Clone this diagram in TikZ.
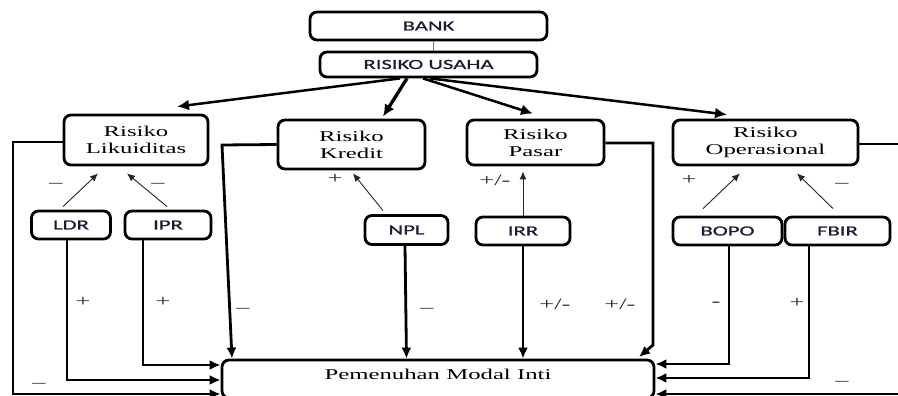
\documentclass[tikz,border=0pt]{standalone}
\usepackage{fontspec}
\usetikzlibrary{arrows.meta}
\newfontfamily\wserif[FakeStretch=1.65]{Liberation Serif}
\newfontfamily\wsans[FakeStretch=1.62, FakeBold=0.8]{Carlito}
\definecolor{txtblue}{HTML}{1A1C38}
\definecolor{lblgray}{HTML}{2A2A2A}
\tikzset{
  box/.style={draw=black, line width=2.8pt, rounded corners=7pt, inner sep=0pt},
  sbox/.style={box, font=\wsans\fontsize{14}{16}\selectfont, text=txtblue},
  rbox/.style={box, font=\wserif\fontsize{15}{17}\selectfont, align=center},
  main/.style={line width=2.8pt, -{Latex[length=11pt,width=10pt]}},
  topa/.style={line width=2.5pt, -{Latex[length=12pt,width=11pt]}},
  thin/.style={line width=0.9pt, draw=black!85, -{Latex[length=8pt,width=7pt]}},
  lbl/.style={font=\wserif\fontsize{16}{16}\selectfont, text=lblgray, inner sep=0pt}
}
\begin{document}
\begin{tikzpicture}[x=1pt,y=-1pt]
\useasboundingbox (0,0) rectangle (898,396);
\fill[white] (0,0) rectangle (898,396);
% boxes
\node[sbox, minimum width=237pt, minimum height=28pt] (bank) at (428.5,26) {BANK};
\node[sbox, minimum width=217pt, minimum height=25pt] (usaha) at (428.5,64.5) {RISIKO USAHA};
\node[rbox, minimum width=144pt, minimum height=50pt] (liku) at (136,140) {Risiko\\Likuiditas};
\node[rbox, minimum width=147pt, minimum height=49pt] (kredit) at (351.5,144.5) {Risiko\\Kredit};
\node[rbox, minimum width=137pt, minimum height=45pt] (pasar) at (535.5,142.5) {Risiko\\Pasar};
\node[rbox, minimum width=185pt, minimum height=45pt] (oper) at (765.5,142.5) {Risiko\\Operasional};
\node[sbox, minimum width=79pt, minimum height=28pt] (ldr) at (71,225) {LDR};
\node[sbox, minimum width=86pt, minimum height=28pt] (ipr) at (168,225) {IPR};
\node[sbox, minimum width=83pt, minimum height=29pt] (npl) at (406.5,230) {NPL};
\node[sbox, minimum width=94pt, minimum height=28pt] (irr) at (523,231) {IRR};
\node[sbox, minimum width=109pt, minimum height=28pt] (bopo) at (727.5,231) {BOPO};
\node[sbox, minimum width=105pt, minimum height=28pt] (fbir) at (837.5,231) {FBIR};
\node[box, font=\wserif\fontsize{15}{17}\selectfont, minimum width=432pt,
      inner ysep=5pt, text height=14pt, text depth=14pt] (pem) at (438,379) {Pemenuhan Modal Inti};
% coordinates
\coordinate (cL) at (13,394);
\coordinate (cK1) at (222,145);
\coordinate (cK2) at (232,0);
\coordinate (cP1) at (653,143);
\coordinate (cP2) at (653,345);
\coordinate (cP3) at (639,357);
\coordinate (cR) at (910,394);
% top connectors
\draw[line width=1pt, draw=black!55] ([xshift=4.5pt]bank.south) -- ([xshift=4.5pt]usaha.north);
\draw[topa] ([xshift=-28.5pt]usaha.south) -- ([xshift=41pt,yshift=7pt]liku.north);
\draw[topa, line width=3.3pt] ([xshift=-21.5pt]usaha.south) -- ([xshift=31.5pt,yshift=2pt]kredit.north);
\draw[topa] ([xshift=-5.5pt]usaha.south) -- ([xshift=-2.5pt,yshift=5pt]pasar.north);
\draw[topa] ([xshift=1.5pt]usaha.south) -- ([xshift=-38.5pt,yshift=4pt]oper.north);
% thin arrows
\draw[thin] ([xshift=-8pt,yshift=3pt]ldr.north) -- ([xshift=-38pt,yshift=-7pt]liku.south);
\draw[thin] ([xshift=-1pt,yshift=3pt]ipr.north) -- ([xshift=-9pt,yshift=-7pt]liku.south);
\draw[thin] ([xshift=-23.5pt,yshift=3.5pt]npl.north) -- ([xshift=1.5pt,yshift=-3pt]kredit.south);
\draw[thin] (irr.north) -- ([xshift=-12.5pt,yshift=-5pt]pasar.south);
\draw[thin] ([xshift=-24.5pt,yshift=7pt]bopo.north) -- ([xshift=-25.5pt,yshift=-7pt]oper.south);
\draw[thin] ([xshift=-4.5pt,yshift=7pt]fbir.north) -- ([xshift=31.5pt,yshift=-7pt]oper.south);
% main connectors
\draw[main] ([yshift=-2pt]liku.west) -| (cL) -- (cL -| pem.west);
\draw[main] (kredit.west) -- (cK1) -- (pem.north -| cK2);
\draw[main] ([yshift=-0.5pt]pasar.east) -- (cP1) -- (cP2) -- (cP3);
\draw[main] ([yshift=-1.5pt]oper.east) -| (cR) -- (cR -| pem.east);
\draw[main] ([xshift=-4pt]ldr.south) |- ([yshift=-1pt]pem.west);
\draw[main] ([xshift=-25pt]ipr.south) |- ([yshift=14pt]pem.west);
\draw[main] ([xshift=-1.5pt]npl.south) -- (pem.north -| npl.south);
\draw[main] (irr.south) -- (pem.north -| irr.south);
\draw[main] ([xshift=1.5pt]bopo.south) |- ([yshift=15pt]pem.east);
\draw[main] ([xshift=-28.5pt]fbir.south) |- ([yshift=1pt]pem.east);
% labels
\node[lbl] (l1) at (56,185) {–};
\node[lbl] (l2) at (158,185) {–};
\node[lbl] (l3) at (335,179) {+};
\node[lbl] (l4) at (495,180) {+/-};
\node[lbl] (l5) at (689,180) {+};
\node[lbl] (l6) at (842,185) {–};
\node[lbl] (l7) at (83,302) {+};
\node[lbl] (l8) at (163,302) {+};
\node[lbl] (l9) at (243,310) {–};
\node[lbl] (l10) at (427,310) {–};
\node[lbl] (l11) at (555,304) {+/-};
\node[lbl] (l12) at (620,304) {+/-};
\node[lbl] (l13) at (716,304) {-};
\node[lbl] (l14) at (797,303) {+};
\node[lbl] (l15) at (39,385) {–};
\node[lbl] (l16) at (842,383) {–};
\end{tikzpicture}
\end{document}
